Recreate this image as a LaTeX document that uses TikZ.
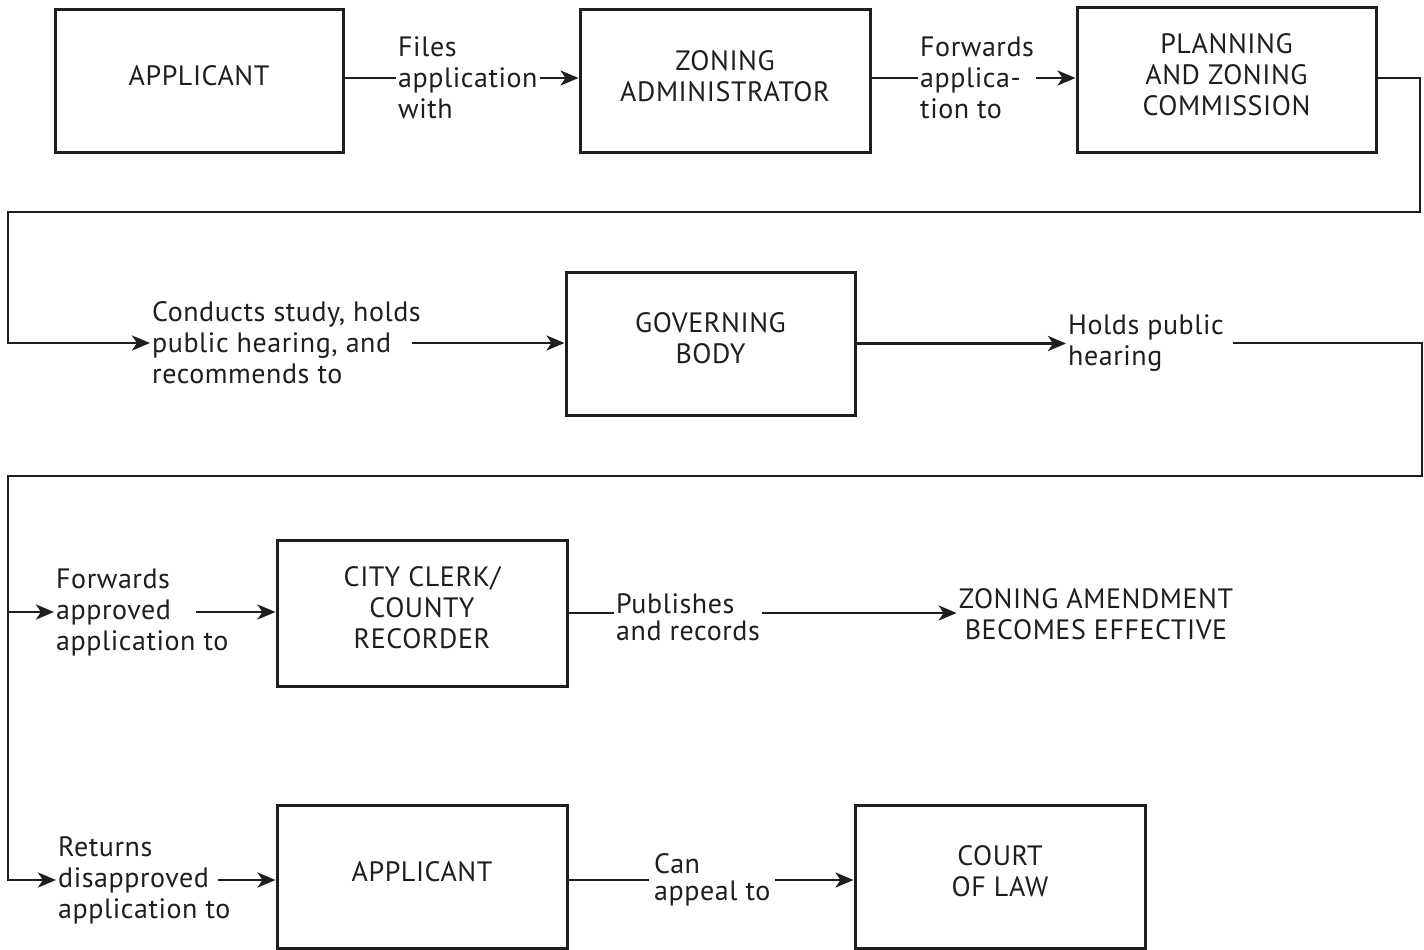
\documentclass[tikz,border=0pt]{standalone}
\usepackage{fontspec}
\setmainfont{PT Sans}[LetterSpace=2]
\usetikzlibrary{arrows.meta}
\definecolor{ink}{RGB}{30,30,30}
\begin{document}
\begin{tikzpicture}[x=1pt,y=-1pt,
  every node/.style={text=ink},
  box/.style={draw=ink, line width=3pt, inner sep=0pt},
  boxtext/.style={align=center, inner sep=0pt, yshift=5pt},
  lbl/.style={align=left, inner ysep=0pt, inner xsep=2pt, anchor=west},
  wire/.style={draw=ink, line width=2.7pt, line join=miter},
  arr/.style={wire, -{Stealth[length=18pt,width=15pt,inset=5pt]}},
  font=\fontsize{28}{31}\selectfont]
\useasboundingbox[fill=white] (0,0) rectangle (1424,950);

% ---- boxes (the caption sits a little above the middle of each frame) ----
\node[box, minimum width=288pt, minimum height=142pt,
  label={[boxtext, name=app1-text]center:APPLICANT}] (app1) at (199,81) {};
\node[box, minimum width=290pt, minimum height=142pt,
  label={[boxtext, name=zadm-text]center:{ZONING\\ADMINISTRATOR}}] (zadm) at (725,81) {};
\node[box, minimum width=299pt, minimum height=144pt,
  label={[boxtext, name=pzc-text]center:{PLANNING\\AND ZONING\\COMMISSION}}] (pzc) at (1226.5,80) {};
\node[box, minimum width=289pt, minimum height=143pt,
  label={[boxtext, name=gov-text]center:{GOVERNING\\BODY}}] (gov) at (710.5,343.5) {};
\node[box, minimum width=290pt, minimum height=146pt,
  label={[boxtext, name=clerk-text]center:{CITY CLERK/\\COUNTY\\RECORDER}}] (clerk) at (422,613) {};
\node[box, minimum width=290pt, minimum height=143pt,
  label={[boxtext, name=app2-text]center:APPLICANT}] (app2) at (422,876.5) {};
\node[box, minimum width=290pt, minimum height=143pt,
  label={[boxtext, name=court-text]center:{COURT\\OF LAW}}] (court) at (1000,876.5) {};

% ---- connector labels ----
\node[lbl] (t1) at (396,78)  {Files\\application\\with};
\node[lbl] (t2) at (918,78)  {Forwards\\applica-\\tion to};
\node[lbl] (t3) at (150,343) {Conducts study, holds\\public hearing, and\\recommends to};
\node[lbl] (t4) at (1066,343) {Holds public\\hearing};
\node[lbl] (t5) at (54,612)  {Forwards\\approved\\application to};
\node[lbl] (t6) at (56,880)  {Returns\\disapproved\\application to};
\node[lbl, font=\fontsize{28}{27}\selectfont] (t7) at (614,617) {Publishes\\and records};
\node[align=center, inner sep=2pt] (t8) at (1096,614) {ZONING AMENDMENT\\BECOMES EFFECTIVE};
\node[lbl, inner xsep=5pt, font=\fontsize{28}{27}\selectfont] (t9) at (649,880) {Can\\appeal to};

% ---- free ends and bends of the routing lines ----
\coordinate (r1) at (1420,212);
\coordinate (l1) at (8,212);
\coordinate (s3) at (412,343);
\coordinate (s4) at (1233,343);
\coordinate (r2) at (1422,476);
\coordinate (l2) at (8,476);
\coordinate (s5) at (196,612);
\coordinate (s6) at (218,880);

% ---- row 1 ----
\draw[wire] (t1.west -| app1.east) -- (t1.west);
\draw[arr]  (t1.east) -- (t1.east -| zadm.west);
\draw[wire] (t2.west -| zadm.east) -- (t2.west);
\draw[arr]  (t2.east) -- (t2.east -| pzc.west);

% ---- commission to governing body ----
\draw[arr] (t2.east -| pzc.east) -- (t2.east -| r1) -- (r1) -- (l1) -- (l1 |- t3.west) -- (t3.west);
\draw[arr] (s3) -- (s3 -| gov.west);

% ---- governing body to hearing and back ----
\draw[arr] (gov.east) -- (gov.east -| t4.west);
\draw[arr] (s4) -- (s4 -| r2) -- (r2) -- (l2) -- (l2 |- t6.west) -- (t6.west);
\draw[arr] (l2 |- t5.west) -- (t5.west);
\draw[arr] (s5) -- (s5 -| clerk.west);
\draw[arr] (s6) -- (s6 -| app2.west);

% ---- clerk to amendment ----
\draw[wire] (clerk.east) -- (clerk.east -| t7.west);
\draw[arr]  (clerk.east -| t7.east) -- (clerk.east -| t8.west);

% ---- applicant to court ----
\draw[wire] (t9.west -| app2.east) -- (t9.west);
\draw[arr]  (t9.east) -- (t9.east -| court.west);
\end{tikzpicture}
\end{document}
